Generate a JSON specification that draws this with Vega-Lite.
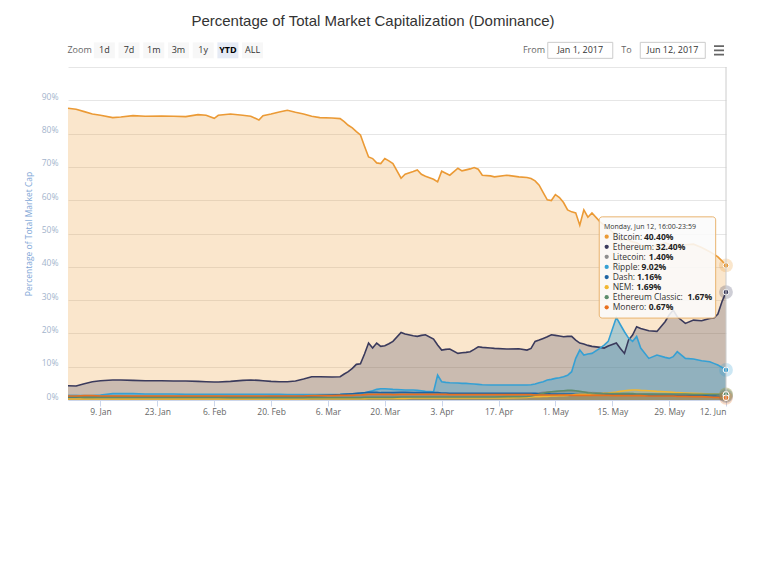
{
  "$schema": "https://vega.github.io/schema/vega-lite/v6.json",
  "width": 658,
  "height": 333,
  "autosize": "none",
  "padding": {"left": 68, "top": 67, "right": 42, "bottom": 181},
  "background": "white",
  "config": {"view": {"stroke": null}},
  "title": {
    "text": "Percentage of Total Market Capitalization (Dominance)",
    "font": "Liberation Sans",
    "fontSize": 15,
    "fontWeight": "normal",
    "color": "#333333",
    "anchor": "middle",
    "frame": "group",
    "offset": 11,
    "dx": -24
  },
  "datasets": {
    "main": [
      {"d":"2017-01-01","Bitcoin":87.6,"Ethereum":4.3,"Litecoin":1.3,"Ripple":1.3,"Dash":0.8,"NEM":0.3,"Ethereum Classic":0.9,"Monero":1.2},
      {"d":"2017-01-03","Bitcoin":87.3,"Ethereum":4.2,"Litecoin":1.3,"Ripple":1.3,"Dash":0.8,"NEM":0.3,"Ethereum Classic":0.9,"Monero":1.2},
      {"d":"2017-01-05","Bitcoin":86.6,"Ethereum":4.9,"Litecoin":1.2,"Ripple":1.3,"Dash":0.8,"NEM":0.3,"Ethereum Classic":0.8,"Monero":1.3},
      {"d":"2017-01-07","Bitcoin":85.9,"Ethereum":5.5,"Litecoin":1.2,"Ripple":1.3,"Dash":0.8,"NEM":0.3,"Ethereum Classic":0.8,"Monero":1.3},
      {"d":"2017-01-09","Bitcoin":85.5,"Ethereum":5.8,"Litecoin":1.2,"Ripple":1.5,"Dash":0.9,"NEM":0.3,"Ethereum Classic":0.8,"Monero":1.2},
      {"d":"2017-01-12","Bitcoin":84.8,"Ethereum":6.0,"Litecoin":1.2,"Ripple":1.9,"Dash":0.9,"NEM":0.3,"Ethereum Classic":0.8,"Monero":1.2},
      {"d":"2017-01-14","Bitcoin":85.0,"Ethereum":6.0,"Litecoin":1.2,"Ripple":1.9,"Dash":0.9,"NEM":0.3,"Ethereum Classic":0.8,"Monero":1.2},
      {"d":"2017-01-17","Bitcoin":85.4,"Ethereum":5.9,"Litecoin":1.1,"Ripple":1.9,"Dash":0.9,"NEM":0.3,"Ethereum Classic":0.8,"Monero":1.2},
      {"d":"2017-01-20","Bitcoin":85.2,"Ethereum":5.8,"Litecoin":1.1,"Ripple":1.8,"Dash":0.9,"NEM":0.3,"Ethereum Classic":0.8,"Monero":1.2},
      {"d":"2017-01-24","Bitcoin":85.3,"Ethereum":5.8,"Litecoin":1.1,"Ripple":1.8,"Dash":0.9,"NEM":0.3,"Ethereum Classic":0.8,"Monero":1.2},
      {"d":"2017-01-27","Bitcoin":85.2,"Ethereum":5.7,"Litecoin":1.1,"Ripple":1.8,"Dash":0.9,"NEM":0.3,"Ethereum Classic":0.8,"Monero":1.2},
      {"d":"2017-01-30","Bitcoin":85.1,"Ethereum":5.7,"Litecoin":1.1,"Ripple":1.7,"Dash":0.9,"NEM":0.3,"Ethereum Classic":0.8,"Monero":1.2},
      {"d":"2017-02-02","Bitcoin":85.7,"Ethereum":5.6,"Litecoin":1.1,"Ripple":1.7,"Dash":0.9,"NEM":0.3,"Ethereum Classic":0.8,"Monero":1.2},
      {"d":"2017-02-04","Bitcoin":85.5,"Ethereum":5.5,"Litecoin":1.1,"Ripple":1.7,"Dash":0.9,"NEM":0.3,"Ethereum Classic":0.8,"Monero":1.2},
      {"d":"2017-02-06","Bitcoin":84.6,"Ethereum":5.4,"Litecoin":1.1,"Ripple":1.7,"Dash":0.9,"NEM":0.3,"Ethereum Classic":0.8,"Monero":1.2},
      {"d":"2017-02-07","Bitcoin":85.5,"Ethereum":5.4,"Litecoin":1.1,"Ripple":1.7,"Dash":0.9,"NEM":0.3,"Ethereum Classic":0.8,"Monero":1.2},
      {"d":"2017-02-10","Bitcoin":85.9,"Ethereum":5.6,"Litecoin":1.0,"Ripple":1.7,"Dash":0.9,"NEM":0.3,"Ethereum Classic":0.7,"Monero":1.2},
      {"d":"2017-02-13","Bitcoin":85.5,"Ethereum":5.9,"Litecoin":1.0,"Ripple":1.7,"Dash":0.9,"NEM":0.3,"Ethereum Classic":0.7,"Monero":1.2},
      {"d":"2017-02-15","Bitcoin":85.2,"Ethereum":6.0,"Litecoin":1.0,"Ripple":1.7,"Dash":0.9,"NEM":0.3,"Ethereum Classic":0.7,"Monero":1.2},
      {"d":"2017-02-17","Bitcoin":84.1,"Ethereum":5.9,"Litecoin":1.0,"Ripple":1.7,"Dash":0.9,"NEM":0.3,"Ethereum Classic":0.7,"Monero":1.2},
      {"d":"2017-02-18","Bitcoin":85.4,"Ethereum":5.8,"Litecoin":1.0,"Ripple":1.7,"Dash":0.9,"NEM":0.3,"Ethereum Classic":0.7,"Monero":1.2},
      {"d":"2017-02-20","Bitcoin":85.9,"Ethereum":5.6,"Litecoin":1.0,"Ripple":1.7,"Dash":1.0,"NEM":0.3,"Ethereum Classic":0.7,"Monero":1.2},
      {"d":"2017-02-22","Bitcoin":86.5,"Ethereum":5.5,"Litecoin":1.0,"Ripple":1.7,"Dash":1.0,"NEM":0.3,"Ethereum Classic":0.7,"Monero":1.2},
      {"d":"2017-02-24","Bitcoin":87.0,"Ethereum":5.5,"Litecoin":1.0,"Ripple":1.6,"Dash":1.0,"NEM":0.3,"Ethereum Classic":0.7,"Monero":1.2},
      {"d":"2017-02-26","Bitcoin":86.4,"Ethereum":5.7,"Litecoin":1.0,"Ripple":1.6,"Dash":1.0,"NEM":0.3,"Ethereum Classic":0.7,"Monero":1.2},
      {"d":"2017-02-28","Bitcoin":85.9,"Ethereum":6.3,"Litecoin":1.0,"Ripple":1.6,"Dash":1.1,"NEM":0.3,"Ethereum Classic":0.7,"Monero":1.2},
      {"d":"2017-03-02","Bitcoin":85.2,"Ethereum":7.0,"Litecoin":0.9,"Ripple":1.6,"Dash":1.2,"NEM":0.4,"Ethereum Classic":0.7,"Monero":1.3},
      {"d":"2017-03-04","Bitcoin":84.8,"Ethereum":7.0,"Litecoin":0.9,"Ripple":1.6,"Dash":1.3,"NEM":0.4,"Ethereum Classic":0.7,"Monero":1.3},
      {"d":"2017-03-07","Bitcoin":84.7,"Ethereum":6.9,"Litecoin":0.9,"Ripple":1.6,"Dash":1.5,"NEM":0.4,"Ethereum Classic":0.7,"Monero":1.3},
      {"d":"2017-03-09","Bitcoin":84.5,"Ethereum":7.0,"Litecoin":0.9,"Ripple":1.7,"Dash":1.6,"NEM":0.4,"Ethereum Classic":0.7,"Monero":1.4},
      {"d":"2017-03-10","Bitcoin":83.6,"Ethereum":7.8,"Litecoin":0.9,"Ripple":1.8,"Dash":1.7,"NEM":0.4,"Ethereum Classic":0.7,"Monero":1.4},
      {"d":"2017-03-11","Bitcoin":82.5,"Ethereum":8.5,"Litecoin":0.9,"Ripple":1.8,"Dash":1.8,"NEM":0.4,"Ethereum Classic":0.7,"Monero":1.4},
      {"d":"2017-03-12","Bitcoin":81.7,"Ethereum":9.5,"Litecoin":0.9,"Ripple":1.8,"Dash":1.9,"NEM":0.4,"Ethereum Classic":0.7,"Monero":1.4},
      {"d":"2017-03-13","Bitcoin":80.6,"Ethereum":10.7,"Litecoin":0.9,"Ripple":1.9,"Dash":2.0,"NEM":0.4,"Ethereum Classic":0.7,"Monero":1.5},
      {"d":"2017-03-14","Bitcoin":79.6,"Ethereum":10.9,"Litecoin":0.9,"Ripple":2.0,"Dash":2.1,"NEM":0.4,"Ethereum Classic":0.7,"Monero":1.5},
      {"d":"2017-03-15","Bitcoin":76.2,"Ethereum":13.8,"Litecoin":0.9,"Ripple":2.2,"Dash":2.2,"NEM":0.4,"Ethereum Classic":0.8,"Monero":1.6},
      {"d":"2017-03-16","Bitcoin":73.0,"Ethereum":17.1,"Litecoin":0.9,"Ripple":2.5,"Dash":2.3,"NEM":0.5,"Ethereum Classic":0.8,"Monero":1.7},
      {"d":"2017-03-17","Bitcoin":72.5,"Ethereum":15.6,"Litecoin":0.9,"Ripple":2.8,"Dash":2.3,"NEM":0.5,"Ethereum Classic":0.8,"Monero":1.7},
      {"d":"2017-03-18","Bitcoin":71.2,"Ethereum":17.1,"Litecoin":0.9,"Ripple":3.2,"Dash":2.3,"NEM":0.5,"Ethereum Classic":0.8,"Monero":1.7},
      {"d":"2017-03-19","Bitcoin":71.0,"Ethereum":16.1,"Litecoin":0.9,"Ripple":3.4,"Dash":2.2,"NEM":0.5,"Ethereum Classic":0.8,"Monero":1.7},
      {"d":"2017-03-20","Bitcoin":72.5,"Ethereum":16.3,"Litecoin":0.9,"Ripple":3.4,"Dash":2.2,"NEM":0.5,"Ethereum Classic":0.8,"Monero":1.7},
      {"d":"2017-03-21","Bitcoin":71.8,"Ethereum":16.9,"Litecoin":0.9,"Ripple":3.3,"Dash":2.2,"NEM":0.5,"Ethereum Classic":0.8,"Monero":1.7},
      {"d":"2017-03-22","Bitcoin":71.0,"Ethereum":17.6,"Litecoin":0.9,"Ripple":3.2,"Dash":2.2,"NEM":0.5,"Ethereum Classic":0.8,"Monero":1.6},
      {"d":"2017-03-24","Bitcoin":66.6,"Ethereum":20.3,"Litecoin":0.9,"Ripple":3.1,"Dash":2.3,"NEM":0.5,"Ethereum Classic":0.9,"Monero":1.7},
      {"d":"2017-03-25","Bitcoin":67.8,"Ethereum":19.8,"Litecoin":0.9,"Ripple":3.0,"Dash":2.3,"NEM":0.5,"Ethereum Classic":0.9,"Monero":1.7},
      {"d":"2017-03-27","Bitcoin":68.6,"Ethereum":19.3,"Litecoin":0.9,"Ripple":3.0,"Dash":2.2,"NEM":0.6,"Ethereum Classic":0.9,"Monero":1.7},
      {"d":"2017-03-28","Bitcoin":69.1,"Ethereum":19.1,"Litecoin":0.9,"Ripple":2.9,"Dash":2.2,"NEM":0.6,"Ethereum Classic":0.9,"Monero":1.7},
      {"d":"2017-03-29","Bitcoin":67.8,"Ethereum":19.4,"Litecoin":1.0,"Ripple":2.8,"Dash":2.2,"NEM":0.6,"Ethereum Classic":0.9,"Monero":1.7},
      {"d":"2017-03-30","Bitcoin":67.2,"Ethereum":19.6,"Litecoin":1.0,"Ripple":2.6,"Dash":2.2,"NEM":0.6,"Ethereum Classic":0.9,"Monero":1.7},
      {"d":"2017-04-01","Bitcoin":66.3,"Ethereum":18.3,"Litecoin":1.1,"Ripple":2.5,"Dash":2.2,"NEM":0.6,"Ethereum Classic":0.9,"Monero":1.7},
      {"d":"2017-04-02","Bitcoin":65.5,"Ethereum":16.5,"Litecoin":1.1,"Ripple":7.5,"Dash":2.2,"NEM":0.6,"Ethereum Classic":0.9,"Monero":1.7},
      {"d":"2017-04-03","Bitcoin":68.7,"Ethereum":15.0,"Litecoin":1.3,"Ripple":5.5,"Dash":2.1,"NEM":0.6,"Ethereum Classic":0.9,"Monero":1.7},
      {"d":"2017-04-04","Bitcoin":68.1,"Ethereum":15.2,"Litecoin":1.3,"Ripple":5.3,"Dash":2.1,"NEM":0.6,"Ethereum Classic":0.9,"Monero":1.7},
      {"d":"2017-04-05","Bitcoin":67.5,"Ethereum":15.3,"Litecoin":1.4,"Ripple":5.2,"Dash":2.0,"NEM":0.6,"Ethereum Classic":0.9,"Monero":1.6},
      {"d":"2017-04-07","Bitcoin":69.6,"Ethereum":14.0,"Litecoin":1.4,"Ripple":5.1,"Dash":2.0,"NEM":0.6,"Ethereum Classic":0.9,"Monero":1.6},
      {"d":"2017-04-08","Bitcoin":68.8,"Ethereum":14.2,"Litecoin":1.4,"Ripple":5.0,"Dash":2.0,"NEM":0.6,"Ethereum Classic":0.9,"Monero":1.6},
      {"d":"2017-04-09","Bitcoin":69.1,"Ethereum":14.3,"Litecoin":1.4,"Ripple":5.0,"Dash":2.0,"NEM":0.6,"Ethereum Classic":0.9,"Monero":1.6},
      {"d":"2017-04-10","Bitcoin":69.4,"Ethereum":14.5,"Litecoin":1.4,"Ripple":4.9,"Dash":2.0,"NEM":0.6,"Ethereum Classic":0.9,"Monero":1.6},
      {"d":"2017-04-11","Bitcoin":69.8,"Ethereum":15.2,"Litecoin":1.4,"Ripple":4.8,"Dash":2.0,"NEM":0.6,"Ethereum Classic":0.9,"Monero":1.6},
      {"d":"2017-04-12","Bitcoin":69.3,"Ethereum":16.0,"Litecoin":1.4,"Ripple":4.7,"Dash":2.0,"NEM":0.6,"Ethereum Classic":0.9,"Monero":1.6},
      {"d":"2017-04-13","Bitcoin":67.5,"Ethereum":15.8,"Litecoin":1.5,"Ripple":4.6,"Dash":2.0,"NEM":0.6,"Ethereum Classic":0.9,"Monero":1.6},
      {"d":"2017-04-15","Bitcoin":67.3,"Ethereum":15.6,"Litecoin":1.5,"Ripple":4.5,"Dash":2.0,"NEM":0.6,"Ethereum Classic":0.9,"Monero":1.6},
      {"d":"2017-04-16","Bitcoin":67.0,"Ethereum":15.5,"Litecoin":1.5,"Ripple":4.5,"Dash":2.0,"NEM":0.6,"Ethereum Classic":0.9,"Monero":1.6},
      {"d":"2017-04-19","Bitcoin":67.5,"Ethereum":15.3,"Litecoin":1.5,"Ripple":4.5,"Dash":2.0,"NEM":0.6,"Ethereum Classic":1.0,"Monero":1.6},
      {"d":"2017-04-22","Bitcoin":67.0,"Ethereum":15.4,"Litecoin":1.6,"Ripple":4.5,"Dash":2.0,"NEM":0.7,"Ethereum Classic":1.0,"Monero":1.6},
      {"d":"2017-04-24","Bitcoin":66.8,"Ethereum":15.0,"Litecoin":1.7,"Ripple":4.5,"Dash":2.0,"NEM":0.8,"Ethereum Classic":1.1,"Monero":1.6},
      {"d":"2017-04-25","Bitcoin":66.5,"Ethereum":15.5,"Litecoin":1.8,"Ripple":4.6,"Dash":2.0,"NEM":0.9,"Ethereum Classic":1.2,"Monero":1.6},
      {"d":"2017-04-26","Bitcoin":65.8,"Ethereum":17.6,"Litecoin":1.9,"Ripple":4.8,"Dash":2.0,"NEM":1.0,"Ethereum Classic":1.4,"Monero":1.5},
      {"d":"2017-04-27","Bitcoin":64.5,"Ethereum":18.0,"Litecoin":2.1,"Ripple":5.2,"Dash":1.9,"NEM":1.0,"Ethereum Classic":1.7,"Monero":1.5},
      {"d":"2017-04-28","Bitcoin":62.3,"Ethereum":18.5,"Litecoin":2.3,"Ripple":5.5,"Dash":1.9,"NEM":1.1,"Ethereum Classic":2.0,"Monero":1.5},
      {"d":"2017-04-29","Bitcoin":60.1,"Ethereum":19.0,"Litecoin":2.4,"Ripple":6.0,"Dash":1.9,"NEM":1.1,"Ethereum Classic":2.3,"Monero":1.5},
      {"d":"2017-04-30","Bitcoin":59.9,"Ethereum":19.6,"Litecoin":2.5,"Ripple":6.2,"Dash":1.8,"NEM":1.2,"Ethereum Classic":2.5,"Monero":1.5},
      {"d":"2017-05-01","Bitcoin":61.7,"Ethereum":19.4,"Litecoin":2.5,"Ripple":6.5,"Dash":1.8,"NEM":1.2,"Ethereum Classic":2.6,"Monero":1.5},
      {"d":"2017-05-02","Bitcoin":60.8,"Ethereum":19.2,"Litecoin":2.6,"Ripple":6.7,"Dash":1.8,"NEM":1.3,"Ethereum Classic":2.7,"Monero":1.5},
      {"d":"2017-05-03","Bitcoin":59.3,"Ethereum":19.0,"Litecoin":2.6,"Ripple":7.0,"Dash":1.8,"NEM":1.3,"Ethereum Classic":2.8,"Monero":1.5},
      {"d":"2017-05-04","Bitcoin":57.1,"Ethereum":19.1,"Litecoin":2.7,"Ripple":7.4,"Dash":1.8,"NEM":1.4,"Ethereum Classic":2.9,"Monero":1.5},
      {"d":"2017-05-05","Bitcoin":56.5,"Ethereum":19.1,"Litecoin":2.7,"Ripple":8.5,"Dash":1.8,"NEM":1.5,"Ethereum Classic":2.9,"Monero":1.4},
      {"d":"2017-05-06","Bitcoin":56.2,"Ethereum":18.0,"Litecoin":2.6,"Ripple":12.5,"Dash":1.7,"NEM":1.6,"Ethereum Classic":2.8,"Monero":1.4},
      {"d":"2017-05-07","Bitcoin":52.5,"Ethereum":17.1,"Litecoin":2.5,"Ripple":15.0,"Dash":1.7,"NEM":1.7,"Ethereum Classic":2.6,"Monero":1.4},
      {"d":"2017-05-08","Bitcoin":57.1,"Ethereum":16.8,"Litecoin":2.4,"Ripple":13.5,"Dash":1.7,"NEM":1.7,"Ethereum Classic":2.4,"Monero":1.4},
      {"d":"2017-05-09","Bitcoin":54.9,"Ethereum":16.4,"Litecoin":2.3,"Ripple":13.8,"Dash":1.7,"NEM":1.7,"Ethereum Classic":2.2,"Monero":1.4},
      {"d":"2017-05-10","Bitcoin":56.2,"Ethereum":16.1,"Litecoin":2.2,"Ripple":14.0,"Dash":1.6,"NEM":1.8,"Ethereum Classic":2.1,"Monero":1.4},
      {"d":"2017-05-12","Bitcoin":53.5,"Ethereum":15.8,"Litecoin":2.1,"Ripple":15.6,"Dash":1.6,"NEM":1.9,"Ethereum Classic":2.0,"Monero":1.4},
      {"d":"2017-05-13","Bitcoin":52.5,"Ethereum":15.6,"Litecoin":2.1,"Ripple":16.5,"Dash":1.6,"NEM":2.0,"Ethereum Classic":1.9,"Monero":1.4},
      {"d":"2017-05-14","Bitcoin":51.5,"Ethereum":16.2,"Litecoin":2.0,"Ripple":17.6,"Dash":1.6,"NEM":2.1,"Ethereum Classic":1.9,"Monero":1.4},
      {"d":"2017-05-16","Bitcoin":49.5,"Ethereum":17.1,"Litecoin":2.0,"Ripple":24.8,"Dash":1.5,"NEM":2.4,"Ethereum Classic":1.9,"Monero":1.3},
      {"d":"2017-05-17","Bitcoin":48.0,"Ethereum":15.5,"Litecoin":1.9,"Ripple":22.6,"Dash":1.5,"NEM":2.6,"Ethereum Classic":1.9,"Monero":1.3},
      {"d":"2017-05-18","Bitcoin":48.5,"Ethereum":14.0,"Litecoin":1.9,"Ripple":20.5,"Dash":1.5,"NEM":2.8,"Ethereum Classic":1.9,"Monero":1.3},
      {"d":"2017-05-19","Bitcoin":48.0,"Ethereum":18.0,"Litecoin":1.9,"Ripple":18.6,"Dash":1.5,"NEM":2.9,"Ethereum Classic":1.9,"Monero":1.3},
      {"d":"2017-05-20","Bitcoin":47.5,"Ethereum":19.5,"Litecoin":1.8,"Ripple":17.6,"Dash":1.5,"NEM":3.0,"Ethereum Classic":1.9,"Monero":1.3},
      {"d":"2017-05-21","Bitcoin":47.2,"Ethereum":22.0,"Litecoin":1.8,"Ripple":19.1,"Dash":1.5,"NEM":3.0,"Ethereum Classic":1.8,"Monero":1.3},
      {"d":"2017-05-22","Bitcoin":46.5,"Ethereum":21.5,"Litecoin":1.8,"Ripple":15.6,"Dash":1.5,"NEM":2.9,"Ethereum Classic":1.8,"Monero":1.3},
      {"d":"2017-05-24","Bitcoin":45.5,"Ethereum":20.8,"Litecoin":1.8,"Ripple":12.5,"Dash":1.4,"NEM":2.8,"Ethereum Classic":1.8,"Monero":1.2},
      {"d":"2017-05-26","Bitcoin":46.5,"Ethereum":20.6,"Litecoin":1.7,"Ripple":13.5,"Dash":1.4,"NEM":2.6,"Ethereum Classic":1.8,"Monero":1.2},
      {"d":"2017-05-28","Bitcoin":47.2,"Ethereum":23.5,"Litecoin":1.7,"Ripple":12.8,"Dash":1.4,"NEM":2.5,"Ethereum Classic":1.8,"Monero":1.2},
      {"d":"2017-05-29","Bitcoin":46.8,"Ethereum":25.5,"Litecoin":1.7,"Ripple":12.5,"Dash":1.4,"NEM":2.4,"Ethereum Classic":1.8,"Monero":1.2},
      {"d":"2017-05-30","Bitcoin":46.5,"Ethereum":27.0,"Litecoin":1.6,"Ripple":13.0,"Dash":1.4,"NEM":2.3,"Ethereum Classic":1.8,"Monero":1.2},
      {"d":"2017-05-31","Bitcoin":46.8,"Ethereum":25.0,"Litecoin":1.6,"Ripple":14.5,"Dash":1.3,"NEM":2.2,"Ethereum Classic":1.8,"Monero":1.1},
      {"d":"2017-06-02","Bitcoin":46.6,"Ethereum":23.0,"Litecoin":1.6,"Ripple":12.5,"Dash":1.3,"NEM":2.1,"Ethereum Classic":1.8,"Monero":1.1},
      {"d":"2017-06-04","Bitcoin":46.8,"Ethereum":24.0,"Litecoin":1.5,"Ripple":12.3,"Dash":1.3,"NEM":2.0,"Ethereum Classic":1.7,"Monero":1.0},
      {"d":"2017-06-06","Bitcoin":45.8,"Ethereum":23.8,"Litecoin":1.5,"Ripple":11.8,"Dash":1.3,"NEM":1.9,"Ethereum Classic":1.7,"Monero":1.0},
      {"d":"2017-06-08","Bitcoin":44.5,"Ethereum":24.5,"Litecoin":1.5,"Ripple":11.5,"Dash":1.2,"NEM":1.8,"Ethereum Classic":1.7,"Monero":0.9},
      {"d":"2017-06-09","Bitcoin":43.8,"Ethereum":24.6,"Litecoin":1.5,"Ripple":11.0,"Dash":1.2,"NEM":1.8,"Ethereum Classic":1.7,"Monero":0.8},
      {"d":"2017-06-10","Bitcoin":43.0,"Ethereum":25.8,"Litecoin":1.4,"Ripple":10.5,"Dash":1.2,"NEM":1.7,"Ethereum Classic":1.7,"Monero":0.8},
      {"d":"2017-06-11","Bitcoin":41.8,"Ethereum":29.5,"Litecoin":1.4,"Ripple":9.8,"Dash":1.2,"NEM":1.7,"Ethereum Classic":1.7,"Monero":0.7},
      {"d":"2017-06-12","Bitcoin":40.4,"Ethereum":32.4,"Litecoin":1.40,"Ripple":9.02,"Dash":1.16,"NEM":1.69,"Ethereum Classic":1.67,"Monero":0.67}
    ],
    "zoomButtons": [
      {"b":"Zoom"},{"b":"1d"},{"b":"7d"},{"b":"1m"},{"b":"3m"},{"b":"1y"},{"b":"YTD"},{"b":"ALL"}
    ],
    "rangeInputs": [
      {"t":"From"},{"t":"Jan 1, 2017"},{"t":"To"},{"t":"Jun 12, 2017"},{"t":"menu"}
    ],
    "tooltipHeader": [
      {"h":"Monday, Jun 12, 16:00-23:59"}
    ]
  },
  "layer": [
    {
      "data": {"name": "main"},
      "transform": [
        {"fold": ["Bitcoin","Ethereum","Litecoin","Ripple","Dash","NEM","Ethereum Classic","Monero"], "as": ["key","value"]}
      ],
      "encoding": {
        "x": {
          "field": "d", "type": "temporal",
          "scale": {"type": "utc", "domain": [{"year":2017,"month":1,"date":1,"utc":true},{"year":2017,"month":6,"date":12,"utc":true}]},
          "axis": {
            "title": null,
            "values": [
              {"year":2017,"month":1,"date":9,"utc":true},
              {"year":2017,"month":1,"date":23,"utc":true},
              {"year":2017,"month":2,"date":6,"utc":true},
              {"year":2017,"month":2,"date":20,"utc":true},
              {"year":2017,"month":3,"date":6,"utc":true},
              {"year":2017,"month":3,"date":20,"utc":true},
              {"year":2017,"month":4,"date":3,"utc":true},
              {"year":2017,"month":4,"date":17,"utc":true},
              {"year":2017,"month":5,"date":1,"utc":true},
              {"year":2017,"month":5,"date":15,"utc":true},
              {"year":2017,"month":5,"date":29,"utc":true},
              {"year":2017,"month":6,"date":12,"utc":true}
            ],
            "labelExpr": "utcFormat(datum.value, '%-d. %b')",
            "labelFlush": true,
            "labelOverlap": false,
            "grid": false,
            "domainColor": "#ccd6eb",
            "tickColor": "#ccd6eb",
            "tickSize": 6,
            "labelColor": "#666666",
            "labelFont": "Open Sans",
            "labelFontSize": 8.5,
            "labelPadding": 1
          }
        },
        "y": {
          "field": "value", "type": "quantitative",
          "stack": null,
          "scale": {"domain": [0, 100]},
          "axis": {
            "title": "Percentage of Total Market Cap",
            "titleColor": "#7ea6d6",
            "titleFont": "Open Sans",
            "titleFontSize": 8.5,
            "titleFontWeight": "normal",
            "titlePadding": 8,
            "values": [0,10,20,30,40,50,60,70,80,90,100],
            "labelExpr": "datum.value < 100 ? datum.value + '%' : ''",
            "labelColor": "#a3b4cc",
            "labelFont": "Open Sans",
            "labelFontSize": 8.5,
            "labelPadding": 10,
            "labelOffset": -4,
            "domain": false,
            "ticks": false,
            "gridColor": "#e6e6e6"
          }
        },
        "color": {
          "field": "key", "type": "nominal",
          "scale": {
            "domain": ["Bitcoin","Ethereum","Litecoin","Ripple","Dash","NEM","Ethereum Classic","Monero"],
            "range": ["#eb9a35","#3a3a5c","#8e8e8e","#35a0d4","#1d63a3","#f2b632","#5d8c6b","#e8701e"]
          },
          "legend": null
        }
      },
      "layer": [
        {
          "mark": {"type": "area"},
          "encoding": {
            "fillOpacity": {"condition": {"test": "datum.key == 'Ripple'", "value": 0.38}, "value": 0.25}
          }
        },
        {"mark": {"type": "line", "strokeWidth": 1.6}},
        {
          "transform": [{"filter": "time(toDate(datum.d)) == utc(2017, 5, 12)"}],
          "mark": {"type": "point", "filled": true, "size": 190, "opacity": 0.25}
        },
        {
          "transform": [{"filter": "time(toDate(datum.d)) == utc(2017, 5, 12)"}],
          "mark": {"type": "point", "filled": true, "size": 32, "opacity": 1, "stroke": "#ffffff", "strokeWidth": 1}
        }
      ]
    },
    {
      "data": {"name": "tooltipHeader"},
      "layer": [
        {
          "mark": {"type": "rule", "color": "#cccccc", "strokeWidth": 1},
          "encoding": {
            "x": {"datum": {"year":2017,"month":6,"date":12,"utc":true}, "type": "temporal",
                  "scale": {"type": "utc", "domain": [{"year":2017,"month":1,"date":1,"utc":true},{"year":2017,"month":6,"date":12,"utc":true}]},
                  "axis": null}
          }
        },
        {
          "mark": {"type": "rect", "fill": "#fbfbfb", "fillOpacity": 0.88, "stroke": "#e9b36e", "strokeWidth": 1, "cornerRadius": 3},
          "encoding": {
            "x": {"datum": {"year":2017,"month":5,"date":11,"hours":19,"utc":true}, "type": "temporal",
                  "scale": {"type": "utc", "domain": [{"year":2017,"month":1,"date":1,"utc":true},{"year":2017,"month":6,"date":12,"utc":true}]},
                  "axis": null},
            "x2": {"datum": {"year":2017,"month":6,"date":9,"hours":11,"utc":true}},
            "y": {"datum": 55.0, "type": "quantitative", "scale": {"domain": [0, 100]}, "axis": null},
            "y2": {"datum": 24.6}
          }
        },
        {
          "mark": {"type": "text", "align": "left", "baseline": "middle", "font": "Open Sans", "fontSize": 7, "color": "#333333"},
          "encoding": {
            "x": {"datum": {"year":2017,"month":5,"date":12,"hours":23,"utc":true}, "type": "temporal",
                  "scale": {"type": "utc", "domain": [{"year":2017,"month":1,"date":1,"utc":true},{"year":2017,"month":6,"date":12,"utc":true}]},
                  "axis": null},
            "y": {"datum": 52.0, "type": "quantitative", "scale": {"domain": [0, 100]}, "axis": null},
            "text": {"field": "h"}
          }
        }
      ]
    },
    {
      "data": {"name": "main"},
      "transform": [
        {"filter": "time(toDate(datum.d)) == utc(2017, 5, 12)"},
        {"fold": ["Bitcoin","Ethereum","Litecoin","Ripple","Dash","NEM","Ethereum Classic","Monero"], "as": ["key","value"]}
      ],
      "encoding": {
        "x": {
          "datum": {"year":2017,"month":5,"date":13,"hours":15,"utc":true}, "type": "temporal",
          "scale": {"type": "utc", "domain": [{"year":2017,"month":1,"date":1,"utc":true},{"year":2017,"month":6,"date":12,"utc":true}]},
          "axis": null
        },
        "y": {
          "field": "key", "type": "nominal",
          "scale": {"type": "point", "domain": ["Bitcoin","Ethereum","Litecoin","Ripple","Dash","NEM","Ethereum Classic","Monero"], "range": [169.7, 240.3], "padding": 0},
          "axis": null
        }
      },
      "layer": [
        {
          "mark": {"type": "point", "filled": true, "size": 18, "opacity": 1},
          "encoding": {
            "color": {
              "field": "key", "type": "nominal",
              "scale": {
                "domain": ["Bitcoin","Ethereum","Litecoin","Ripple","Dash","NEM","Ethereum Classic","Monero"],
                "range": ["#eb9a35","#3a3a5c","#8e8e8e","#35a0d4","#1d63a3","#f2b632","#5d8c6b","#e8701e"]
              },
              "legend": null
            }
          }
        },
        {
          "mark": {"type": "text", "text": {"expr": "datum.key + ':'"}, "align": "left", "baseline": "middle", "dx": 6, "font": "Open Sans", "fontSize": 8.5, "color": "#333333"}
        },
        {
          "mark": {
            "type": "text",
            "text": {"expr": "format(datum.value, '.2f') + '%'"},
            "align": "left", "baseline": "middle",
            "dx": {"expr": "6 + 8.5*(0.58*length(replace(datum.key + ': ', regexp('[iltrjmMWw: ]','g'), '')) + 1.1*(length(datum.key) - length(replace(datum.key, regexp('[mMWw]','g'), ''))) + 0.27*(length(datum.key + ': ') - length(replace(datum.key + ': ', regexp('[iltrj: ]','g'), ''))))"},
            "font": "Open Sans", "fontSize": 8.5, "fontWeight": "bold", "color": "#222222"
          }
        }
      ]
    },
    {
      "data": {"name": "zoomButtons"},
      "encoding": {
        "x": {
          "field": "b", "type": "nominal",
          "scale": {"type": "point", "domain": ["Zoom","1d","7d","1m","3m","1y","YTD","ALL"], "range": [11.6, 184.6], "padding": 0},
          "axis": null
        },
        "y": {"datum": 105, "type": "quantitative", "scale": {"domain": [0, 100]}, "axis": null}
      },
      "layer": [
        {
          "transform": [{"filter": "datum.b != 'Zoom'"}],
          "mark": {"type": "point", "shape": "M-1,-0.76H1V0.76H-1Z", "size": 441, "filled": true, "opacity": 1, "strokeWidth": 0},
          "encoding": {
            "color": {"condition": {"test": "datum.b == 'YTD'", "value": "#e6ebf5"}, "value": "#f7f7f7"}
          }
        },
        {
          "transform": [{"filter": "datum.b != 'YTD'"}],
          "mark": {"type": "text", "align": "center", "baseline": "middle", "font": "Open Sans", "fontSize": 9},
          "encoding": {
            "text": {"field": "b"},
            "color": {"condition": {"test": "datum.b == 'Zoom'", "value": "#666666"}, "value": "#333333"}
          }
        },
        {
          "transform": [{"filter": "datum.b == 'YTD'"}],
          "mark": {"type": "text", "align": "center", "baseline": "middle", "font": "Open Sans", "fontSize": 9, "fontWeight": "bold", "color": "#000000"},
          "encoding": {"text": {"field": "b"}}
        }
      ]
    },
    {
      "data": {"name": "rangeInputs"},
      "encoding": {
        "x": {
          "field": "t", "type": "nominal",
          "scale": {"type": "point", "domain": ["From","Jan 1, 2017","To","Jun 12, 2017","menu"], "range": [466, 651], "padding": 0},
          "axis": null
        },
        "y": {"datum": 105, "type": "quantitative", "scale": {"domain": [0, 100]}, "axis": null}
      },
      "layer": [
        {
          "transform": [{"filter": "datum.t == 'Jan 1, 2017' || datum.t == 'Jun 12, 2017'"}],
          "mark": {"type": "point", "shape": "M-1,-0.246H1V0.246H-1Z", "size": 4225, "filled": false, "fill": "#ffffff", "stroke": "#cccccc", "strokeWidth": 1, "opacity": 1}
        },
        {
          "transform": [{"filter": "datum.t != 'menu'"}],
          "mark": {"type": "text", "align": "center", "baseline": "middle", "font": "Open Sans", "fontSize": 9},
          "encoding": {
            "text": {"field": "t"},
            "color": {"condition": {"test": "datum.t == 'From' || datum.t == 'To'", "value": "#666666"}, "value": "#333333"}
          }
        },
        {
          "transform": [{"filter": "datum.t == 'menu'"}],
          "mark": {"type": "point", "shape": "M-1,-0.86H1M-1,0H1M-1,0.86H1", "size": 100, "filled": false, "stroke": "#666666", "strokeWidth": 1.8, "opacity": 1}
        }
      ]
    }
  ],
  "resolve": {"scale": {"x": "independent", "y": "independent"}}
}
